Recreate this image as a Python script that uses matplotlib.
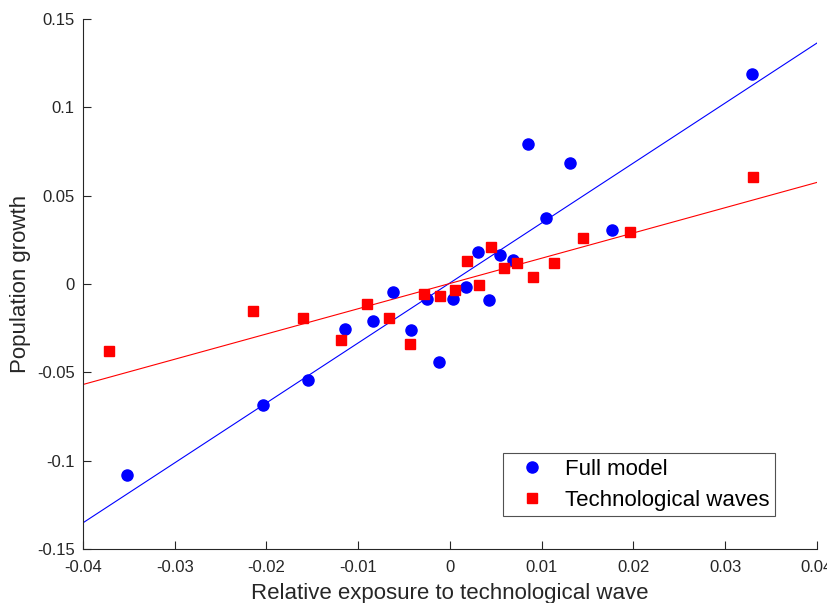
import numpy as np
import matplotlib.pyplot as plt

plt.rcParams['font.family'] = ['Liberation Sans', 'DejaVu Sans']

# Full model (blue circles)
full_x = [-0.0352, -0.0204, -0.0155, -0.0114, -0.0084, -0.0062, -0.0042, -0.0025,
          -0.0012, 0.0003, 0.0017, 0.0031, 0.0043, 0.0055, 0.0069, 0.0085,
          0.0105, 0.0131, 0.0177, 0.0329]
full_y = [-0.108, -0.0685, -0.0545, -0.0256, -0.021, -0.0045, -0.026, -0.0085,
          -0.0443, -0.0083, -0.0017, 0.018, -0.0088, 0.0165, 0.0136, 0.0795,
          0.0375, 0.0685, 0.0305, 0.119]

# Technological waves (red squares)
tech_x = [-0.0372, -0.0215, -0.016, -0.0119, -0.009, -0.0066, -0.0044, -0.0028,
          -0.0011, 0.0005, 0.0019, 0.0032, 0.0045, 0.0059, 0.0073, 0.0091,
          0.0113, 0.0145, 0.0196, 0.033]
tech_y = [-0.0379, -0.0152, -0.0195, -0.0318, -0.0112, -0.0191, -0.0337, -0.0055,
          -0.007, -0.0034, 0.0132, -0.0006, 0.0212, 0.0089, 0.0121, 0.0038,
          0.0119, 0.0263, 0.0295, 0.0605]

# fitted lines (slope, intercept)
full_fit = (3.395, 0.0006)
tech_fit = (1.43, 0.0003)

fig = plt.figure(figsize=(8.28, 6.03), dpi=100)
ax = fig.add_axes([0.1002, 0.0896, 0.8865, 0.8789])

xl = np.array([-0.04, 0.04])
ax.plot(xl, full_fit[0] * xl + full_fit[1], color='#0000ff', lw=0.8, zorder=2)
ax.plot(xl, tech_fit[0] * xl + tech_fit[1], color='#ff0000', lw=0.8, zorder=2)

ax.plot(full_x, full_y, 'o', color='#0000ff', markersize=8, ls='none',
        label='Full model', zorder=3)
ax.plot(tech_x, tech_y, 's', color='#ff0000', markersize=6.8, ls='none',
        label='Technological waves', zorder=3)

ax.set_xlim(-0.04, 0.04)
ax.set_ylim(-0.15, 0.15)
ax.set_xticks(np.arange(-0.04, 0.041, 0.01))
ax.set_xticklabels(['-0.04', '-0.03', '-0.02', '-0.01', '0', '0.01', '0.02', '0.03', '0.04'])
ax.set_yticks(np.arange(-0.15, 0.151, 0.05))
ax.set_yticklabels(['-0.15', '-0.1', '-0.05', '0', '0.05', '0.1', '0.15'])

for s in ['top', 'right']:
    ax.spines[s].set_visible(False)
for s in ['left', 'bottom']:
    ax.spines[s].set_color('#262626')
    ax.spines[s].set_linewidth(0.8)
ax.tick_params(direction='in', length=5.5, width=0.8, colors='#262626',
               labelsize=12, pad=6)
ax.tick_params(axis='x', pad=8)

ax.set_xlabel('Relative exposure to technological wave', fontsize=16,
              color='#262626', labelpad=6)
ax.set_ylabel('Population growth', fontsize=16, color='#262626', labelpad=4)

leg = ax.legend(loc='lower right', bbox_to_anchor=(0.943, 0.062), borderaxespad=0,
                fontsize=16, frameon=True, fancybox=False, handletextpad=0.45,
                borderpad=0.25, labelspacing=0.45, handlelength=2.1)
leg.get_frame().set_edgecolor('#262626')
leg.get_frame().set_linewidth(0.8)

fig.savefig('out.png', dpi=100)
